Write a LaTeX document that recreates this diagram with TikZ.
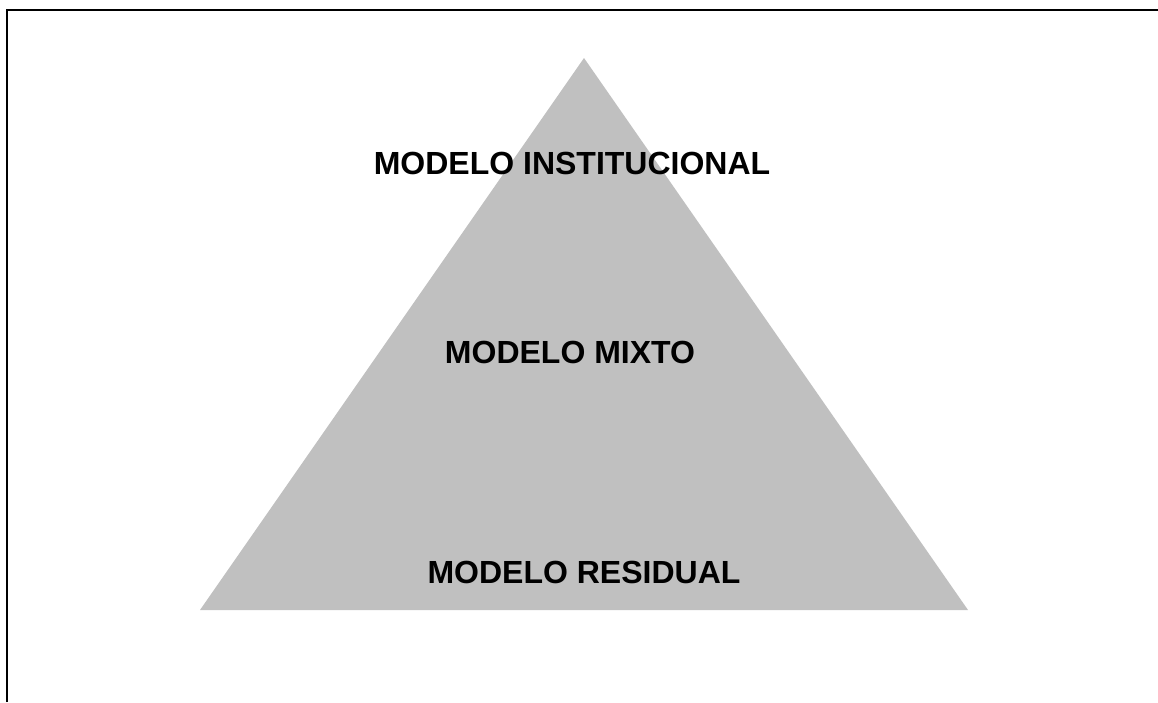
\documentclass[tikz,border=0pt]{standalone}
\usepackage{fontspec}
\setmainfont{Liberation Sans}
\begin{document}
\begin{tikzpicture}[x=1pt,y=-1pt,
  lbl/.style={font=\fontsize{32}{36}\selectfont\bfseries, inner sep=0pt, anchor=center}]
\useasboundingbox (0,0) rectangle (1158,702);
\fill[white] (0,0) rectangle (1158,702);
\coordinate (apex) at (584,58);
\coordinate (bl) at (200,610);
\coordinate (br) at (968,610);
\fill[fill={rgb,255:red,192;green,192;blue,192}] (apex) -- (br) -- (bl) -- cycle;
\coordinate (fb) at (7,702);
\coordinate (fc) at (7,10);
\coordinate (fr) at (1158,10);
\draw[line width=2pt] (fb) -- (fc) -- (fr);
\node[lbl] (inst) at (572,163) {MODELO INSTITUCIONAL};
\node[lbl] (mixto) at (570,352) {MODELO MIXTO};
\node[lbl] (resid) at (584,572) {MODELO RESIDUAL};
\end{tikzpicture}
\end{document}
